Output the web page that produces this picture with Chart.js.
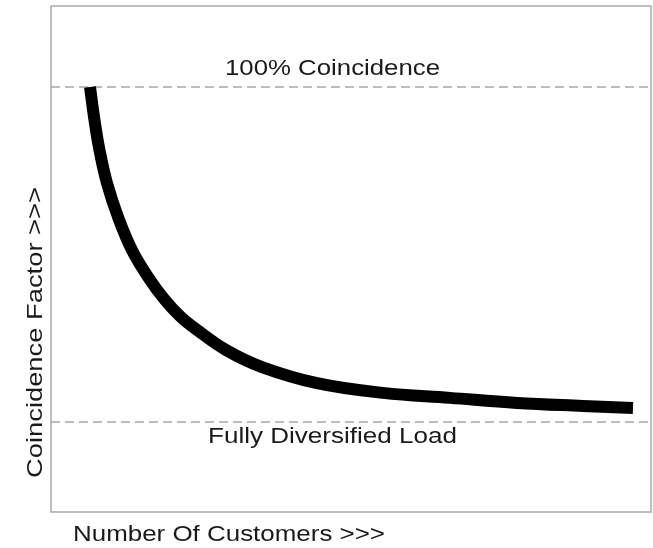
<!DOCTYPE html>
<html>
<head>
<meta charset="utf-8">
<script src="https://cdn.jsdelivr.net/npm/chart.js@4"></script>
<style>
  body { margin: 0; background: #fff; }
  canvas { display: block; }
</style>
</head>
<body>
<canvas id="cfChart" width="653" height="548"></canvas>
<script>
// Coincidence factor vs. number of customers
const customers = [6.5, 7.25, 8.08, 9.33, 11.17, 13.5, 16.17, 19, 21.67, 24.33, 29.17, 35.17, 44.33, 55.33, 66.5, 77.67, 88.67, 97];
const coincidence = [100, 90.1, 81.2, 71.3, 61.2, 51.3, 43.3, 36.4, 31.3, 27.5, 21.5, 16.4, 11.6, 8.7, 7.2, 5.7, 4.8, 4.2];

// Reference levels (dashed lines)
const fullCoincidence = 100;
const fullyDiversified = 0;
const xRange = [0, 100];

const curvePoints = customers.map((c, i) => ({ x: c, y: coincidence[i] }));
const levelLine = v => xRange.map(x => ({ x: x, y: v }));

// Draw text stretched to a given width (the source image is stretched sideways)
function stretchText(ctx, text, x, y, w, angle) {
    ctx.save();
    ctx.translate(x, y);
    if (angle) ctx.rotate(angle);
    const natural = ctx.measureText(text).width;
    ctx.scale(w / natural, 1);
    ctx.fillText(text, 0, 0);
    ctx.restore();
}

const frameAndLabels = {
    id: 'frameAndLabels',
    afterDraw(chart) {
        const ctx = chart.ctx;
        const a = chart.chartArea;

        // plot frame
        ctx.save();
        ctx.strokeStyle = '#a8a8a8';
        ctx.lineWidth = 1.5;
        ctx.strokeRect(a.left, a.top, a.right - a.left, a.bottom - a.top);
        ctx.restore();

        ctx.save();
        ctx.fillStyle = '#1a1a1a';
        ctx.font = '22px "Liberation Sans", Arial, sans-serif';
        ctx.textAlign = 'left';
        ctx.textBaseline = 'alphabetic';
        stretchText(ctx, '100% Coincidence', 225, 75, 215);
        stretchText(ctx, 'Fully Diversified Load', 208, 443, 249);
        stretchText(ctx, 'Number Of Customers >>>', 73, 541, 312);
        stretchText(ctx, 'Coincidence Factor >>>', 42, 478, 291, -Math.PI / 2);
        ctx.restore();
    }
};

new Chart(document.getElementById('cfChart').getContext('2d'), {
    type: 'line',
    data: {
        datasets: [
            {
                label: 'Coincidence Factor',
                data: curvePoints,
                borderColor: '#000',
                borderWidth: 12,
                borderCapStyle: 'butt',
                borderJoinStyle: 'round',
                tension: 0.4,
                pointRadius: 0,
                fill: false
            },
            {
                label: '100% Coincidence',
                data: levelLine(fullCoincidence),
                borderColor: '#a6a6a6',
                borderWidth: 1.5,
                borderDash: [9, 5],
                pointRadius: 0
            },
            {
                label: 'Fully Diversified Load',
                data: levelLine(fullyDiversified),
                borderColor: '#a6a6a6',
                borderWidth: 1.5,
                borderDash: [9, 5],
                pointRadius: 0
            }
        ]
    },
    options: {
        responsive: false,
        animation: false,
        layout: { padding: { left: 51, top: 6, right: 2, bottom: 36 } },
        plugins: {
            legend: { display: false },
            tooltip: { enabled: false }
        },
        scales: {
            x: { type: 'linear', min: xRange[0], max: xRange[1], display: false },
            y: { type: 'linear', min: -26.87, max: 124.18, display: false }
        }
    },
    plugins: [frameAndLabels]
});
</script>
</body>
</html>
